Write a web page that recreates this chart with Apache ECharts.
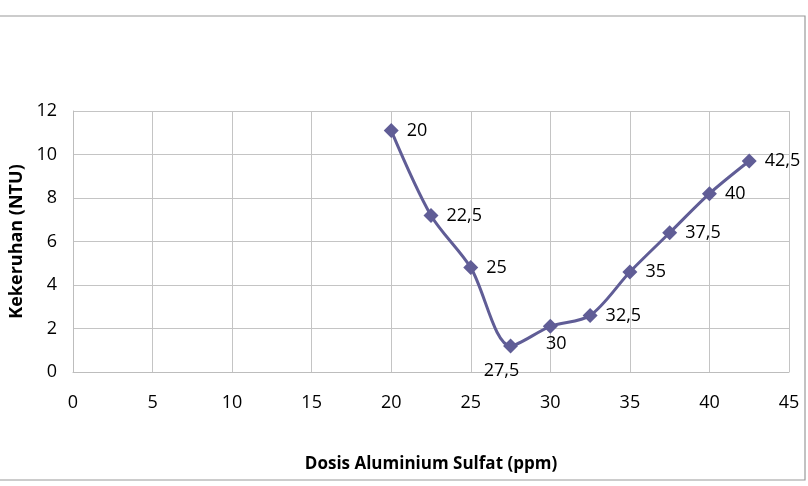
<!DOCTYPE html>
<html>
<head>
<meta charset="utf-8">
<script src="https://cdn.jsdelivr.net/npm/echarts@6/dist/echarts.min.js"></script>
<style>html,body{margin:0;padding:0;background:#fff;}#c{width:808px;height:486px;}</style>
</head>
<body>
<div id="c"></div>
<script>
// Data
const dosis = [20, 22.5, 25, 27.5, 30, 32.5, 35, 37.5, 40, 42.5];
const kekeruhan = [11.1, 7.2, 4.8, 1.2, 2.1, 2.6, 4.6, 6.4, 8.2, 9.7];
const xTitle = 'Dosis Aluminium Sulfat (ppm)';
const yTitle = 'Kekeruhan (NTU)';

const FONT = '"Open Sans", Lato, sans-serif';
const labelStyles = {
  27.5: { position: 'bottom', distance: 8, offset: [-9, 0] },
  30: { position: 'bottom', distance: 1, offset: [6, 0] }
};
const seriesData = dosis.map((x, i) => {
  const item = { value: [x, kekeruhan[i]] };
  if (labelStyles[x]) item.label = labelStyles[x];
  return item;
});

const chart = echarts.init(document.getElementById('c'), null, { renderer: 'canvas' });
chart.setOption({
  backgroundColor: '#ffffff',
  animation: false,
  graphic: [{
    type: 'rect', silent: true,
    shape: { x: -2, y: 16, width: 807, height: 464 },
    style: { fill: 'none', stroke: '#9a9a9a', lineWidth: 1.2 }
  }],
  grid: { left: 73, right: 19, top: 111, bottom: 114, containLabel: false, outerBoundsMode: 'none' },
  xAxis: {
    type: 'value', min: 0, max: 45, interval: 5,
    name: xTitle, nameLocation: 'middle', nameGap: 84,
    nameTextStyle: { fontFamily: FONT, fontSize: 17, fontWeight: 'bold', color: '#000' },
    axisLine: { show: true, lineStyle: { color: '#bdbdbd', width: 1 } },
    axisTick: { show: false },
    axisLabel: { fontFamily: FONT, fontSize: 18, color: '#000', margin: 22 },
    splitLine: { show: true, lineStyle: { color: '#c4c4c4', width: 1 } }
  },
  yAxis: {
    type: 'value', min: 0, max: 12, interval: 2,
    name: yTitle, nameLocation: 'middle', nameGap: 47, nameRotate: 90,
    nameTextStyle: { fontFamily: FONT, fontSize: 18, fontWeight: 'bold', color: '#000' },
    axisLine: { show: true, lineStyle: { color: '#bdbdbd', width: 1 } },
    axisTick: { show: false },
    axisLabel: { fontFamily: FONT, fontSize: 18, color: '#000', margin: 16 },
    splitLine: { show: true, lineStyle: { color: '#c4c4c4', width: 1 } }
  },
  series: [{
    type: 'line',
    data: seriesData,
    smooth: 0.3,
    symbol: 'diamond',
    symbolSize: 15,
    itemStyle: { color: '#605d96' },
    lineStyle: { color: '#605d96', width: 3 },
    label: {
      show: true, position: 'right', distance: 8,
      fontFamily: FONT, fontSize: 18, color: '#000',
      formatter: p => String(p.value[0]).replace('.', ',')
    }
  }]
});
</script>
</body>
</html>
